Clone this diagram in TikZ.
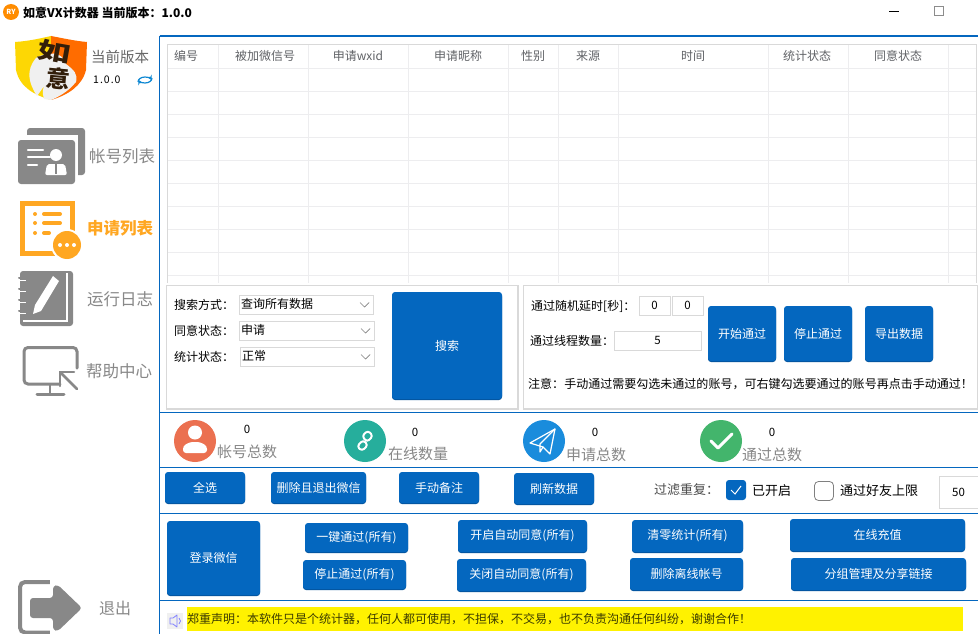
\documentclass[tikz,border=0pt]{standalone}
\usepackage{fontspec}
\setmainfont{Noto Sans CJK SC}
\usetikzlibrary{calc}
\definecolor{bluebtn}{HTML}{0467BF}
\definecolor{bluedark}{HTML}{03549E}
\definecolor{linegray}{HTML}{D9D9D9}
\definecolor{gridgray}{HTML}{EDEDEF}
\definecolor{icongray}{HTML}{888888}
\definecolor{hdrtext}{HTML}{606266}
\definecolor{orangeacc}{HTML}{FFA722}
\tikzset{
  x=1pt,y=-1pt,
  btnface/.style={fill=bluebtn,draw=none,rounded corners=3pt,inner sep=0pt,outer sep=0pt,text=white,font=\fontsize{12}{12}\selectfont,anchor=center},
  btnedge/.style={fill=bluedark,rounded corners=3pt},
  panelbox/.style={draw=linegray,line width=1.2pt,fill=white},
  field/.style={draw=linegray,line width=1pt,fill=white,inner sep=0pt,anchor=north west,font=\fontsize{11.5}{12}\selectfont},
  lab/.style={anchor=west,inner sep=0pt,font=\fontsize{12}{12}\selectfont},
  labbig/.style={anchor=west,inner sep=0pt,font=\fontsize{13}{13}\selectfont},
  side/.style={anchor=west,inner sep=0pt,text=icongray,font=\fontsize{16.5}{16}\selectfont},
  stat/.style={anchor=west,inner sep=0pt,text=icongray,font=\fontsize{15}{15}\selectfont},
  zero/.style={inner sep=0pt,font=\fontsize{11.5}{12}\selectfont},
  hdr/.style={inner sep=0pt,text=hdrtext,font=\fontsize{12}{12}\selectfont},
  rule/.style={draw=bluebtn,line width=1.2pt},
  grid/.style={draw=gridgray,line width=1pt},
  chev/.style={draw=gray,line width=.7pt},
  ico/.style={draw=white,line width=2pt,line cap=round,line join=round},
  logochar/.style={inner sep=0pt,text={rgb,255:red,50;green,30;blue,10},font=\bfseries\fontsize{23}{23}\selectfont}
}
% name, left, top, width, height, text
\newcommand{\mybtn}[6]{%
  \fill[btnedge] (#2,#3+1.5) rectangle ++(#4,#5-1.5);
  \node[btnface,minimum width=#4pt,minimum height={(#5-1)*1pt}] (#1) at (#2+#4/2,#3+#5/2-.5) {\raisebox{-1pt}{#6}};
}
% name, top-left, width, text
\newcommand{\mycombo}[4]{%
  \node[field,minimum width=#3pt,minimum height=19pt] (#1) at (#2) {};
  \node[lab] at ($(#1.west)+(2.5,-1)$) {#4};
  \draw[chev] ($(#1.east)+(-14,-2)$) -- ++(4.5,4.5) -- ++(4.5,-4.5);
}
\begin{document}
\begin{tikzpicture}
\useasboundingbox (0,0) rectangle (978,634);
\fill[white] (0,0) rectangle (978,634);
% title bar
\fill[orange!90!yellow] (11,12) circle (8);
\node[inner sep=0pt,text=white,font=\bfseries\fontsize{7}{7}\selectfont] (appico) at (11,12) {RY};
\node[lab,font=\bfseries\fontsize{12}{12}\selectfont] (title) at (23,13) {如意VX计数器 当前版本：1.0.0};
\draw[black,line width=.8pt] (889,11.5) -- (899,11.5);
\draw[black!45,line width=.8pt] (934.5,6.5) rectangle (943.5,15.5);
% main frame
\draw[rule] (159.5,36) -- (978,36);
\draw[rule] (159.5,36) -- (159.5,634);
\draw[rule] (160,412.5) -- (978,412.5);
\draw[rule] (160,467.5) -- (978,467.5);
\draw[rule] (160,513.5) -- (978,513.5);
\draw[rule] (160,600.5) -- (978,600.5);
% table
\foreach \yy in {68,91,114,137,160,183,206,229,252,275} \draw[grid] (168,\yy+.5) -- (976,\yy+.5);
\foreach \xx in {218,308,408,508,558,618,768,848,948} \draw[grid] (\xx,45) -- (\xx,283);
\draw[linegray,line width=1.2pt] (167.5,283) -- (167.5,44.5) -- (976.5,44.5) -- (976.5,283);
\foreach \cx/\cn/\ct in {186/h1/编号,265/h2/被加微信号,358/h3/申请wxid,458/h4/申请昵称,533/h5/性别,588/h6/来源,693/h7/时间,807/h8/统计状态,898/h9/同意状态}
  \node[hdr] (\cn) at (\cx,56) {\ct};
% search panel
\draw[panelbox] (166.5,285.5) rectangle (518,409);
\node[lab] (l1) at (174,305) {搜索方式：};
\node[lab] (l2) at (174,331) {同意状态：};
\node[lab] (l3) at (174,357) {统计状态：};
\mycombo{c1}{238.5,294.5}{134.5}{查询所有数据}
\mycombo{c2}{238.5,320.5}{135.5}{申请}
\mycombo{c3}{239.5,346.5}{134.5}{正常}
\mybtn{search}{392}{292}{110}{108}{搜索}
% pass panel
\draw[panelbox] (523.5,285.5) rectangle (977.5,409);
\node[lab] (l4) at (531,306) {通过随机延时[秒]：};
\node[lab] (l5) at (530,341) {通过线程数量：};
\node[field,minimum width=31pt,minimum height=19pt] (d1) at (638.5,295.5) {0};
\node[field,minimum width=31pt,minimum height=19pt] (d2) at (671.5,295.5) {0};
\node[field,minimum width=87pt,minimum height=19pt] (d3) at (613.5,330.5) {5};
\mybtn{start}{708}{306}{68}{56}{开始通过}
\mybtn{stop}{784}{306}{68}{56}{停止通过}
\mybtn{export}{865}{306}{68}{56}{导出数据}
\node[lab,font=\fontsize{12.02}{12}\selectfont] (note) at (528,384) {注意：手动通过需要勾选未通过的账号，可右键勾选要通过的账号再点击手动通过！};
% stats
\fill[fill={rgb,255:red,235;green,112;blue,80}] (195,441) circle (21);
\fill[white] (195,432.5) circle (7);
\fill[white,rounded corners=3pt] (183,453) -- (183,446) -- (190,442) -- (200,442) -- (207,446) -- (207,453) -- cycle;
\fill[fill={rgb,255:red,38;green,174;blue,156}] (365,441) circle (21);
\draw[ico,rounded corners=3pt] (357,446.5) -- (362,451) -- (368,445) -- (363,440) -- cycle;
\draw[ico,rounded corners=3pt] (362,436) -- (368,430.5) -- (373,436) -- (367,442) -- cycle;
\fill[fill={rgb,255:red,26;green,140;blue,220}] (544,441) circle (21);
\draw[ico,line width=1.2pt] (530,443) -- (555,429) -- (550,454) -- (543,447) -- cycle;
\draw[ico,line width=1.2pt] (555,429) -- (540,444) -- (540,452) -- (543,447);
\fill[fill={rgb,255:red,67;green,181;blue,108}] (721,441) circle (21);
\draw[ico,line width=3pt] (711,441) -- (718,448) -- (732,434);
\node[zero] (s1) at (247,429) {0};
\node[zero] (s2) at (415,432) {0};
\node[zero] (s3) at (595,432) {0};
\node[zero] (s4) at (772,432) {0};
\node[stat] (t1) at (217,452) {帐号总数};
\node[stat] (t2) at (388,454) {在线数量};
\node[stat] (t3) at (566,455) {申请总数};
\node[stat] (t4) at (742,455) {通过总数};
% action row
\mybtn{b1}{165}{472}{80}{32}{全选}
\mybtn{b2}{271}{472}{95}{32}{删除且退出微信}
\mybtn{b3}{399}{472}{80}{32}{手动备注}
\mybtn{b4}{514}{473}{80}{32}{刷新数据}
\node[labbig,text=black!70] (f1) at (654,490) {过滤重复：};
\fill[bluebtn,rounded corners=3pt] (726,480) rectangle (746,500);
\draw[white,line width=1pt] (731,490) -- (735,494) -- (741,486);
\node[labbig] (f2) at (752,491) {已开启};
\draw[gray,rounded corners=4pt,line width=.8pt] (814.5,481.5) rectangle (833.5,500.5);
\node[labbig] (f3) at (840,491) {通过好友上限};
\node[field,minimum width=39pt,minimum height=32pt] (f4) at (938.5,475.5) {50};
% bottom buttons
\mybtn{login}{167}{521}{93}{75}{登录微信}
\mybtn{p1}{305}{523}{103}{30}{一键通过(所有)}
\mybtn{p2}{303}{560}{103}{30}{停止通过(所有)}
\mybtn{p3}{458}{520}{129}{33}{开启自动同意(所有)}
\mybtn{p4}{457}{559}{129}{33}{关闭自动同意(所有)}
\mybtn{p5}{632}{520}{111}{33}{清零统计(所有)}
\mybtn{p6}{630}{558}{113}{33}{删除离线帐号}
\mybtn{p7}{790}{519}{175}{33}{在线充值}
\mybtn{p8}{791}{558}{175}{33}{分组管理及分享链接}
% disclaimer
\fill[black!6] (167,613) rectangle (183,629);
\draw[blue!50,line width=.8pt,line join=round] (170,618) -- (173,618) -- (177,615) -- (177,627) -- (173,624) -- (170,624) -- cycle;
\draw[blue!50,line width=.8pt] (179,618) .. controls (181,620) and (181,622) .. (179,624);
\fill[yellow] (187,607) rectangle (963,631);
\node[lab,text={rgb,255:red,60;green,60;blue,0},font=\fontsize{12}{13}\selectfont] (claim) at (187,619) {郑重声明：本软件只是个统计器，任何人都可使用，不担保，不交易，也不负责沟通任何纠纷，谢谢合作！};
% logo
\fill[yellow!75!orange] (15,42) .. controls (30,41) and (42,38) .. (51,36) -- (51,100) .. controls (35,95) and (20,88) .. (16,70) -- cycle;
\fill[orange!85!red] (51,36) .. controls (62,38) and (75,41) .. (87,42) -- (86,70) .. controls (82,86) and (68,95) .. (51,100) -- cycle;
\fill[white!94!black] (37,96) .. controls (28,82) and (26,70) .. (36,58) .. controls (46,52) and (62,50) .. (66,64) .. controls (74,70) and (78,74) .. (76,82) .. controls (68,92) and (58,97) .. (51,100) -- (44,99) .. controls (42,92) and (42,88) .. (47,82) -- cycle;
\node[logochar,rotate=-10,xscale=1.45] (logo1) at (54,52) {如};
\node[logochar,rotate=-5,xscale=1.05] (logo2) at (58,79) {意};
\node[lab,text=black!60,font=\fontsize{14.5}{15}\selectfont] (ver) at (91,57) {当前版本};
\node[lab,font=\fontsize{10.5}{12}\selectfont] (vernum) at (93,80) {1\kern1pt.\kern1pt0\kern1pt.\kern1pt0};
\draw[cyan!70!blue,line width=1.2pt,->,>=stealth] (152,78) arc (0:160:7 and 5);
\draw[cyan!70!blue,line width=1.2pt,->,>=stealth] (138,82) arc (180:340:7 and 5);
% account list icon
\fill[icongray,rounded corners=3pt] (27,128) rectangle (85,175);
\fill[white] (18,135) rectangle (78,177);
\fill[icongray,rounded corners=3pt] (18,140) rectangle (75,184);
\foreach \ya/\xb in {150/43,157/50,165/37} \draw[white,line width=2.5pt,line cap=round] (28,\ya) -- (\xb,\ya);
\fill[white] (56,155) circle (6);
\fill[white,rounded corners=2pt] (45,175) -- (47,164) -- (65,164) -- (67,175) -- cycle;
\fill[icongray] (55,164) rectangle (57,174);
\node[side] (m1) at (89,156) {帐号列表};
% request list icon
\draw[orangeacc,line width=5pt] (22,203) rectangle (72,253);
\foreach \yc/\xe in {214/60,223/60,233/49} {\fill[orangeacc] (35,\yc) circle (2);\draw[orangeacc,line width=4pt,line cap=round] (44,\yc) -- (\xe,\yc);}
\fill[white] (67,245) circle (16);
\fill[orangeacc] (67,245) circle (14);
\foreach \xc in {60,67,74} \fill[white] (\xc,245) circle (2);
\node[side,text=orangeacc,font=\bfseries\fontsize{16.5}{16}\selectfont] (m2) at (87,228) {申请列表};
% log icon
\fill[icongray,rounded corners=3pt] (20,271) rectangle (73,326);
\fill[white] (66,273) rectangle (68,320);
\fill[white] (23,320) rectangle (68,322);
\foreach \yr in {278,289,300,311} \draw[icongray,line width=2pt,line cap=round] (25,\yr) -- (19,\yr);
\foreach \yr in {278,289,300,311} \draw[white,line width=.8pt] (19,\yr+2) -- (26,\yr+2);
\fill[white] (53,276) -- (59,281) -- (41,311) -- (33,314) -- (35,305) -- cycle;
\node[side] (m3) at (87,299) {运行日志};
% help icon
\draw[icongray,line width=3pt,rounded corners=4pt,line cap=round] (77,368) -- (77,347.5) -- (24,347.5) -- (24,384) -- (60,384);
\draw[icongray,line width=2.5pt] (50,384) -- (50,394);
\draw[icongray,line width=3pt,line cap=round] (37,394.5) -- (64,394.5);
\draw[icongray,line width=2.5pt,line cap=round] (77,389) -- (61,373);
\draw[icongray,line width=2.5pt,line cap=round,line join=miter] (60,386) -- (60,372) -- (74,372);
\node[side] (m4) at (86,371) {帮助中心};
% exit icon
\draw[icongray,line width=4pt,rounded corners=5pt] (50,582) -- (20,582) -- (20,632.5) -- (50,632.5);
\fill[white] (50,576) rectangle (53,634);
\fill[icongray,rounded corners=3pt] (30,598) -- (53,598) -- (53,586) -- (58,585) -- (82,608) -- (58,631) -- (53,630) -- (53,618) -- (30,618) -- cycle;
\node[side,font=\fontsize{16}{16}\selectfont] (m5) at (99,608) {退出};
\end{tikzpicture}
\end{document}
